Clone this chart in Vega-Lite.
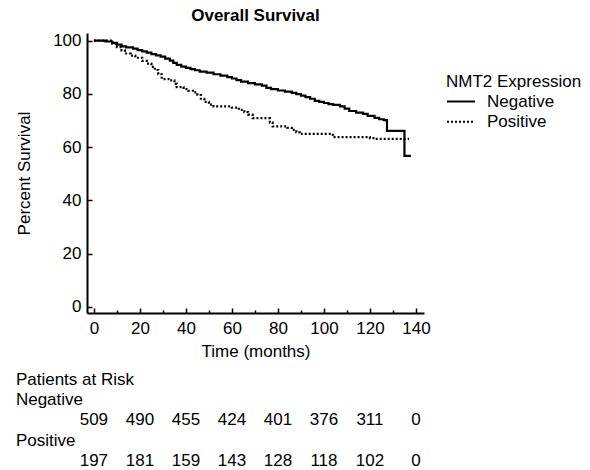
{
  "$schema": "https://vega.github.io/schema/vega-lite/v6.json",
  "padding": {"left": 15, "top": 7, "right": 5, "bottom": 4},
  "background": "white",
  "config": {
    "font": "Liberation Sans",
    "view": {"stroke": null},
    "axis": {"labelFont": "Liberation Sans", "labelFontSize": 17, "labelColor": "black", "titleFont": "Liberation Sans", "titleColor": "black", "titleFontWeight": "normal", "titleFontSize": 17, "domainColor": "black", "domainWidth": 2, "tickColor": "black", "tickWidth": 1.5, "grid": false},
    "legend": {"labelFont": "Liberation Sans", "titleFont": "Liberation Sans"}
  },
  "bounds": "flush",
  "spacing": 56.5,
  "resolve": {"scale": {"x": "independent", "y": "independent"}},
  "datasets": {
    "km": [
      {"group": "Negative", "month": 0, "surv": 100},
      {"group": "Negative", "month": 5, "surv": 99.7},
      {"group": "Negative", "month": 8, "surv": 99.2},
      {"group": "Negative", "month": 10, "surv": 98.5},
      {"group": "Negative", "month": 12, "surv": 97.9},
      {"group": "Negative", "month": 14, "surv": 97.5},
      {"group": "Negative", "month": 17, "surv": 97.0},
      {"group": "Negative", "month": 19, "surv": 96.5},
      {"group": "Negative", "month": 21, "surv": 96.0},
      {"group": "Negative", "month": 23, "surv": 95.5},
      {"group": "Negative", "month": 25, "surv": 95.0},
      {"group": "Negative", "month": 27, "surv": 94.5},
      {"group": "Negative", "month": 29, "surv": 94.0},
      {"group": "Negative", "month": 31, "surv": 93.3},
      {"group": "Negative", "month": 33, "surv": 92.5},
      {"group": "Negative", "month": 34.5, "surv": 91.7},
      {"group": "Negative", "month": 36, "surv": 90.9},
      {"group": "Negative", "month": 38, "surv": 90.3},
      {"group": "Negative", "month": 40, "surv": 89.8},
      {"group": "Negative", "month": 42, "surv": 89.3},
      {"group": "Negative", "month": 44, "surv": 88.9},
      {"group": "Negative", "month": 46, "surv": 88.4},
      {"group": "Negative", "month": 49, "surv": 88.0},
      {"group": "Negative", "month": 52, "surv": 87.4},
      {"group": "Negative", "month": 55, "surv": 86.9},
      {"group": "Negative", "month": 58, "surv": 86.3},
      {"group": "Negative", "month": 60, "surv": 85.8},
      {"group": "Negative", "month": 62, "surv": 85.2},
      {"group": "Negative", "month": 64, "surv": 84.6},
      {"group": "Negative", "month": 67, "surv": 84.1},
      {"group": "Negative", "month": 70, "surv": 83.6},
      {"group": "Negative", "month": 73, "surv": 83.1},
      {"group": "Negative", "month": 75, "surv": 82.3},
      {"group": "Negative", "month": 77, "surv": 81.8},
      {"group": "Negative", "month": 80, "surv": 81.3},
      {"group": "Negative", "month": 83, "surv": 80.9},
      {"group": "Negative", "month": 86, "surv": 80.4},
      {"group": "Negative", "month": 88, "surv": 79.9},
      {"group": "Negative", "month": 90, "surv": 79.4},
      {"group": "Negative", "month": 92, "surv": 78.8},
      {"group": "Negative", "month": 94, "surv": 78.2},
      {"group": "Negative", "month": 96, "surv": 77.4},
      {"group": "Negative", "month": 98, "surv": 77.0},
      {"group": "Negative", "month": 100, "surv": 76.6},
      {"group": "Negative", "month": 102, "surv": 76.2},
      {"group": "Negative", "month": 104, "surv": 75.9},
      {"group": "Negative", "month": 107, "surv": 75.3},
      {"group": "Negative", "month": 109, "surv": 74.5},
      {"group": "Negative", "month": 111, "surv": 73.6},
      {"group": "Negative", "month": 114, "surv": 73.0},
      {"group": "Negative", "month": 117, "surv": 72.5},
      {"group": "Negative", "month": 119, "surv": 71.8},
      {"group": "Negative", "month": 122, "surv": 71.0},
      {"group": "Negative", "month": 124, "surv": 70.5},
      {"group": "Negative", "month": 126, "surv": 70.2},
      {"group": "Negative", "month": 127.4, "surv": 66.1},
      {"group": "Negative", "month": 135, "surv": 56.7},
      {"group": "Negative", "month": 137.8, "surv": 56.7},
      {"group": "Positive", "month": 0, "surv": 100},
      {"group": "Positive", "month": 8, "surv": 98.8},
      {"group": "Positive", "month": 10, "surv": 97.6},
      {"group": "Positive", "month": 12, "surv": 96.4},
      {"group": "Positive", "month": 13.5, "surv": 95.2},
      {"group": "Positive", "month": 16, "surv": 94.4},
      {"group": "Positive", "month": 18, "surv": 93.6},
      {"group": "Positive", "month": 21, "surv": 92.4},
      {"group": "Positive", "month": 23, "surv": 91.4},
      {"group": "Positive", "month": 25, "surv": 90.2},
      {"group": "Positive", "month": 26.5, "surv": 89.0},
      {"group": "Positive", "month": 28, "surv": 87.4},
      {"group": "Positive", "month": 29.5, "surv": 85.6},
      {"group": "Positive", "month": 33, "surv": 85.1},
      {"group": "Positive", "month": 35, "surv": 83.8},
      {"group": "Positive", "month": 36, "surv": 82.6},
      {"group": "Positive", "month": 39, "surv": 81.8},
      {"group": "Positive", "month": 41, "surv": 81.2},
      {"group": "Positive", "month": 43, "surv": 80.6},
      {"group": "Positive", "month": 45, "surv": 79.6},
      {"group": "Positive", "month": 46.5, "surv": 78.2},
      {"group": "Positive", "month": 48, "surv": 77.0},
      {"group": "Positive", "month": 50, "surv": 76.0},
      {"group": "Positive", "month": 52, "surv": 75.3},
      {"group": "Positive", "month": 60, "surv": 74.9},
      {"group": "Positive", "month": 63, "surv": 74.0},
      {"group": "Positive", "month": 65.4, "surv": 73.2},
      {"group": "Positive", "month": 67, "surv": 72.2},
      {"group": "Positive", "month": 69, "surv": 70.9},
      {"group": "Positive", "month": 76.5, "surv": 69.2},
      {"group": "Positive", "month": 77.7, "surv": 67.8},
      {"group": "Positive", "month": 84, "surv": 67.3},
      {"group": "Positive", "month": 86, "surv": 66.5},
      {"group": "Positive", "month": 88, "surv": 65.6},
      {"group": "Positive", "month": 89.5, "surv": 65.0},
      {"group": "Positive", "month": 103, "surv": 64.6},
      {"group": "Positive", "month": 104, "surv": 63.8},
      {"group": "Positive", "month": 120, "surv": 63.4},
      {"group": "Positive", "month": 122, "surv": 63.1},
      {"group": "Positive", "month": 137, "surv": 63.1}
    ],
    "risk": [
      {"kind": "label", "month": -33.9, "row": 0.5, "text": "Patients at Risk"},
      {"kind": "label", "month": -33.9, "row": 1.5, "text": "Negative"},
      {"kind": "label", "month": -33.9, "row": 3.5, "text": "Positive"},
      {"kind": "count", "month": 0, "row": 2.5, "text": "509"},
      {"kind": "count", "month": 20, "row": 2.5, "text": "490"},
      {"kind": "count", "month": 40, "row": 2.5, "text": "455"},
      {"kind": "count", "month": 60, "row": 2.5, "text": "424"},
      {"kind": "count", "month": 80, "row": 2.5, "text": "401"},
      {"kind": "count", "month": 100, "row": 2.5, "text": "376"},
      {"kind": "count", "month": 120, "row": 2.5, "text": "311"},
      {"kind": "count", "month": 140, "row": 2.5, "text": "0"},
      {"kind": "count", "month": 0, "row": 4.5, "text": "197"},
      {"kind": "count", "month": 20, "row": 4.5, "text": "181"},
      {"kind": "count", "month": 40, "row": 4.5, "text": "159"},
      {"kind": "count", "month": 60, "row": 4.5, "text": "143"},
      {"kind": "count", "month": 80, "row": 4.5, "text": "128"},
      {"kind": "count", "month": 100, "row": 4.5, "text": "118"},
      {"kind": "count", "month": 120, "row": 4.5, "text": "102"},
      {"kind": "count", "month": 140, "row": 4.5, "text": "0"}
    ]
  },
  "vconcat": [
    {
      "width": 337,
      "height": 280,
      "title": {"text": "Overall Survival", "font": "Liberation Sans", "fontSize": 17, "fontWeight": "bold", "color": "black", "anchor": "middle", "offset": 6.5},
      "data": {"name": "km"},
      "mark": {"type": "line", "interpolate": "step-after", "color": "black", "strokeWidth": 2.2},
      "encoding": {
        "x": {
          "field": "month", "type": "quantitative",
          "scale": {"domain": [-3, 143.5], "nice": false, "zero": false},
          "axis": {
            "title": "Time (months)",
            "values": [0, 10, 20, 30, 40, 50, 60, 70, 80, 90, 100, 110, 120, 130, 140],
            "labelExpr": "datum.value % 20 === 0 ? datum.label : ''",
            "tickSize": {"condition": {"test": "datum.value % 20 === 0", "value": -5}, "value": -3},
            "labelPadding": 12.5,
            "labelFlush": false,
            "labelOverlap": false,
            "titlePadding": 5
          }
        },
        "y": {
          "field": "surv", "type": "quantitative",
          "scale": {"domain": [-2.3, 102.9], "nice": false, "zero": false},
          "axis": {
            "title": "Percent Survival",
            "values": [0, 20, 40, 60, 80, 100],
            "tickSize": -5,
            "labelPadding": 11,
            "labelFlush": false,
            "titlePadding": 19
          }
        },
        "strokeDash": {
          "field": "group", "type": "nominal",
          "scale": {"domain": ["Negative", "Positive"], "range": [[1, 0], [2, 2]]},
          "legend": {
            "title": "NMT2 Expression",
            "orient": "none",
            "legendX": 359,
            "legendY": 41,
            "titleFontSize": 17,
            "titleFontWeight": "normal",
            "titleColor": "black",
            "titlePadding": 2,
            "labelFontSize": 17,
            "labelColor": "black",
            "symbolType": "stroke",
            "symbolSize": 784,
            "symbolStrokeWidth": 2,
            "symbolStrokeColor": "black",
            "clipHeight": 17,
            "labelOffset": 11,
            "rowPadding": 2.3,
            "padding": 0
          }
        }
      }
    },
    {
      "width": 337,
      "height": 101.5,
      "data": {"name": "risk"},
      "layer": [
        {
          "transform": [{"filter": "datum.kind === 'label'"}],
          "mark": {"type": "text", "align": "left", "baseline": "middle", "fontSize": 17, "color": "black", "font": "Liberation Sans"},
          "encoding": {
            "x": {"field": "month", "type": "quantitative", "scale": {"domain": [-3, 143.5], "nice": false, "zero": false}, "axis": null},
            "y": {"field": "row", "type": "quantitative", "scale": {"domain": [0, 5], "reverse": true, "nice": false, "zero": false}, "axis": null},
            "text": {"field": "text"}
          }
        },
        {
          "transform": [{"filter": "datum.kind === 'count'"}],
          "mark": {"type": "text", "align": "center", "baseline": "middle", "fontSize": 17, "color": "black", "font": "Liberation Sans"},
          "encoding": {
            "x": {"field": "month", "type": "quantitative", "scale": {"domain": [-3, 143.5], "nice": false, "zero": false}, "axis": null},
            "y": {"field": "row", "type": "quantitative", "scale": {"domain": [0, 5], "reverse": true, "nice": false, "zero": false}, "axis": null},
            "text": {"field": "text"}
          }
        }
      ]
    }
  ]
}
